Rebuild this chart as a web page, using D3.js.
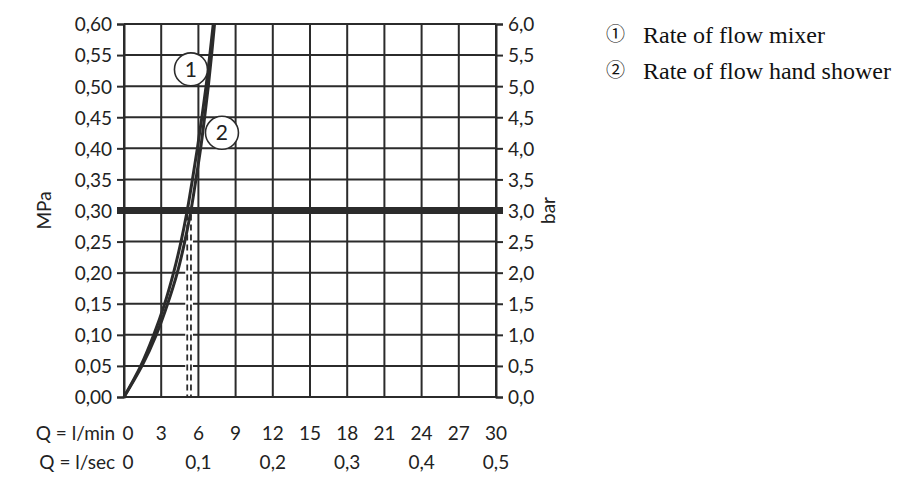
<!DOCTYPE html>
<html>
<head>
<meta charset="utf-8">
<script src="https://cdn.jsdelivr.net/npm/d3@7"></script>
<style>
  html, body { margin: 0; padding: 0; background: #fff; }
  svg { display: block; }
  .ax text { font-family: Lato, "Open Sans", sans-serif; font-size: 19px; fill: #222; }
  .lg text { font-family: "Liberation Serif", "Times New Roman", serif; font-size: 24px; fill: #111; }
</style>
</head>
<body>
<svg id="chart" width="900" height="492"></svg>
<script>
// ---- data ----
const pressureTicks = [0, 0.05, 0.10, 0.15, 0.20, 0.25, 0.30, 0.35, 0.40, 0.45, 0.50, 0.55, 0.60];
const barTicks = [0, 0.5, 1.0, 1.5, 2.0, 2.5, 3.0, 3.5, 4.0, 4.5, 5.0, 5.5, 6.0];
const flowTicks = [0, 3, 6, 9, 12, 15, 18, 21, 24, 27, 30];
const flowSecTicks = [0, 0.1, 0.2, 0.3, 0.4, 0.5];
const curvePressure = [0, 0.05, 0.10, 0.15, 0.20, 0.25, 0.30, 0.35, 0.40, 0.45, 0.50, 0.55, 0.60];
const mixerFlow = [0, 1.35, 2.4, 3.28, 4.0, 4.6, 5.1, 5.52, 5.92, 6.28, 6.62, 6.92, 7.2];
const showerFlow = [0, 1.45, 2.6, 3.52, 4.3, 4.9, 5.4, 5.8, 6.18, 6.5, 6.8, 7.06, 7.3];
const refPressure = 0.30;
const legendLabels = ["Rate of flow mixer", "Rate of flow hand shower"];
const legendMarks = ["\u2460", "\u2461"];
const curveMarks = ["1", "2"];
const curveMarkPos = [[5.4, 0.527], [7.9, 0.425]];

// ---- layout ----
const svg = d3.select("#chart");
const x = d3.scaleLinear().domain([0, 30]).range([124, 496]);
const y = d3.scaleLinear().domain([0, 0.6]).range([397, 24]);
const yBar = d3.scaleLinear().domain([0, 6]).range([397, 24]);
const xSec = d3.scaleLinear().domain([0, 0.5]).range([124, 496]);
const ink = "#2b2b2b";
const comma = d => d.toString().replace(".", ",");

// grid
const g = svg.append("g");
g.selectAll("line.h").data(pressureTicks).join("line")
  .attr("x1", x(0)).attr("x2", x(30))
  .attr("y1", d => y(d)).attr("y2", d => y(d))
  .attr("stroke", ink).attr("stroke-width", 2);
g.selectAll("line.v").data(flowTicks).join("line")
  .attr("x1", d => x(d)).attr("x2", d => x(d))
  .attr("y1", y(0)).attr("y2", y(0.6))
  .attr("stroke", ink).attr("stroke-width", 2);

// left axis
const left = svg.append("g").attr("class", "ax").attr("transform", `translate(${x(0)},0)`)
  .call(d3.axisLeft(y).tickValues(pressureTicks).tickSize(7).tickPadding(5)
    .tickFormat(d => d3.format(".2f")(d).replace(".", ",")));
left.select(".domain").attr("stroke", ink).attr("stroke-width", 2);
left.selectAll(".tick line").attr("stroke", ink).attr("stroke-width", 2);
left.selectAll(".tick text").attr("dy", "0.36em");

// right axis
const right = svg.append("g").attr("class", "ax").attr("transform", `translate(${x(30)},0)`)
  .call(d3.axisRight(yBar).tickValues(barTicks).tickSize(7).tickPadding(5)
    .tickFormat(d => d3.format(".1f")(d).replace(".", ",")));
right.select(".domain").attr("stroke", ink).attr("stroke-width", 2);
right.selectAll(".tick line").attr("stroke", ink).attr("stroke-width", 2);
right.selectAll(".tick text").attr("dy", "0.36em");

// reference line 0.30 MPa
svg.append("line")
  .attr("x1", x(0) - 7).attr("x2", x(30) + 7)
  .attr("y1", y(refPressure)).attr("y2", y(refPressure))
  .attr("stroke", ink).attr("stroke-width", 7);

// dashed drop lines
const crossing = [mixerFlow[curvePressure.indexOf(refPressure)], showerFlow[curvePressure.indexOf(refPressure)]];
svg.selectAll("line.drop").data(crossing).join("line")
  .attr("x1", d => x(d)).attr("x2", d => x(d))
  .attr("y1", y(refPressure) + 4).attr("y2", y(0) - 1)
  .attr("stroke", "#fff").attr("stroke-width", 4);
svg.selectAll("line.drop2").data(crossing).join("line")
  .attr("x1", d => x(d)).attr("x2", d => x(d))
  .attr("y1", y(refPressure) + 4).attr("y2", y(0) - 1)
  .attr("stroke", ink).attr("stroke-width", 1.8).attr("stroke-dasharray", "6,4");

// curves
const line = d3.line().x(d => x(d[0])).y(d => y(d[1])).curve(d3.curveCatmullRom.alpha(0.5));
[mixerFlow, showerFlow].forEach(fl => {
  svg.append("path")
    .datum(fl.map((q, i) => [q, curvePressure[i]]))
    .attr("d", line).attr("fill", "none")
    .attr("stroke", ink).attr("stroke-width", 3);
});

// curve labels
const marks = svg.append("g").attr("class", "ax");
curveMarkPos.forEach((p, i) => {
  marks.append("circle").attr("cx", x(p[0])).attr("cy", y(p[1])).attr("r", 16.5)
    .attr("fill", "#fff").attr("stroke", ink).attr("stroke-width", 1.6);
  marks.append("text").attr("x", x(p[0])).attr("y", y(p[1])).attr("dy", "0.36em")
    .attr("text-anchor", "middle").style("font-size", "21px").text(curveMarks[i]);
});

// axis titles
svg.append("g").attr("class", "ax").append("text")
  .attr("transform", `translate(51,${y(0.3)}) rotate(-90)`)
  .attr("text-anchor", "middle").text("MPa");
svg.append("g").attr("class", "ax").append("text")
  .attr("transform", `translate(555,${y(0.3)}) rotate(-90)`)
  .attr("text-anchor", "middle").text("bar");

// bottom rows
const bottom = svg.append("g").attr("class", "ax");
bottom.append("text").attr("x", 115).attr("y", 440).attr("text-anchor", "end").text("Q = l/min");
bottom.selectAll("text.qm").data(flowTicks).join("text")
  .attr("x", d => x(d) + (d === 0 ? 4 : 0)).attr("y", 440).attr("text-anchor", "middle").text(d => d);
bottom.append("text").attr("x", 115).attr("y", 469).attr("text-anchor", "end").text("Q = l/sec");
bottom.selectAll("text.qs").data(flowSecTicks).join("text")
  .attr("x", d => xSec(d) + (d === 0 ? 4 : 0)).attr("y", 469).attr("text-anchor", "middle").text(comma);

// legend
const lg = svg.append("g").attr("class", "lg");
legendLabels.forEach((t, i) => {
  lg.append("text").attr("x", 606).attr("y", 41 + i * 36)
    .style("font-family", "'Noto Sans CJK JP', 'DejaVu Sans', sans-serif").style("font-size", "19px")
    .text(legendMarks[i]);
  lg.append("text").attr("x", 643).attr("y", 43 + i * 36).text(t);
});
</script>
</body>
</html>
